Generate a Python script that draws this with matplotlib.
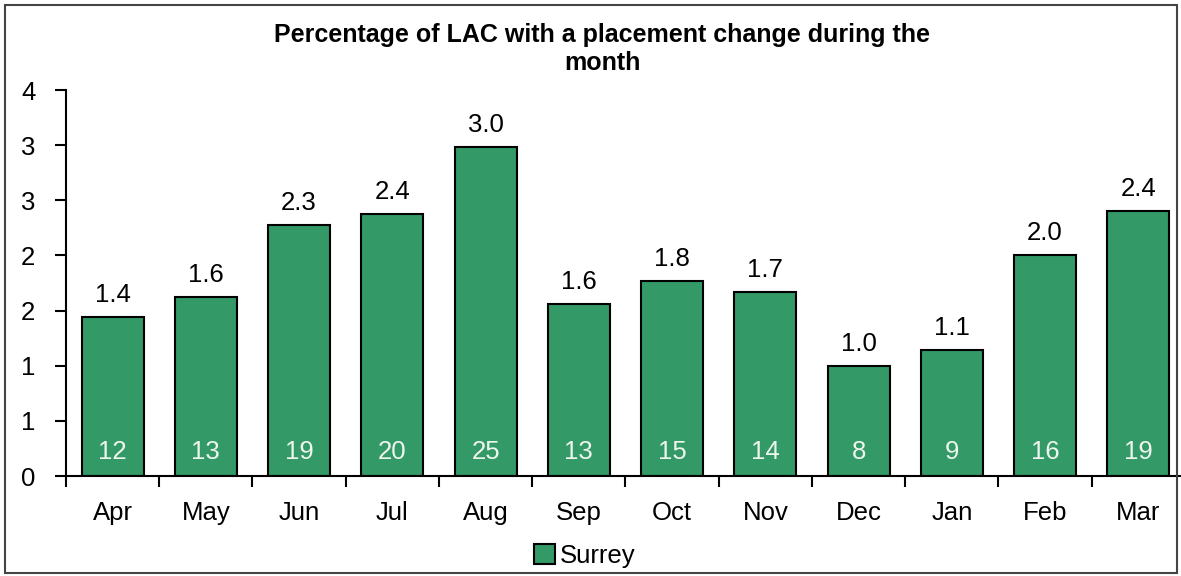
import matplotlib.pyplot as plt
from matplotlib.patches import Rectangle, Patch
from matplotlib.transforms import offset_copy

months = ["Apr", "May", "Jun", "Jul", "Aug", "Sep", "Oct", "Nov", "Dec", "Jan", "Feb", "Mar"]
pct = [1.44, 1.62, 2.28, 2.38, 2.98, 1.56, 1.77, 1.67, 1.0, 1.14, 2.0, 2.4]
counts = [12, 13, 19, 20, 25, 13, 15, 14, 8, 9, 16, 19]
yticks = [0, 0.5, 1, 1.5, 2, 2.5, 3, 3.5]
ylabels = ["0", "1", "1", "2", "2", "3", "3", "4"]

green = "#339966"
fs = 18.5
plt.rcParams['font.family'] = ['Liberation Sans', 'DejaVu Sans']

fig = plt.figure(figsize=(11.81, 5.76), dpi=100)
fig.patches.append(Rectangle((5 / 1181, 3 / 576), 1172 / 1181, 568 / 576, transform=fig.transFigure,
                             fill=False, edgecolor="#444444", linewidth=1.5))

ax = fig.add_axes([66 / 1181, 100 / 576, 1119 / 1181, 386 / 576])
x = range(len(months))
ax.bar(x, pct, width=0.665, color=green, edgecolor="black", linewidth=1.5, zorder=2)

ax.set_xlim(-0.5, len(months) - 0.5)
ax.set_ylim(0, 3.5)
ax.set_yticks(yticks)
ax.set_yticklabels(ylabels, fontsize=fs)
ax.set_xticks([i - 0.5 for i in range(len(months))])
ax.set_xticklabels([])
ax.set_xticks(list(x), minor=True)
ax.set_xticklabels(months, minor=True, fontsize=fs)
ax.tick_params(axis="x", which="major", direction="out", length=8, width=1.5)
ax.tick_params(axis="x", which="minor", length=0, pad=18)
ax.tick_params(axis="y", direction="out", length=8, width=1.5, pad=14)
for s in ["top", "right"]:
    ax.spines[s].set_visible(False)
for s in ["left", "bottom"]:
    ax.spines[s].set_linewidth(1.5)

for i, (v, c) in enumerate(zip(pct, counts)):
    ax.text(i, v, f"{v:.1f}", ha="center", va="bottom", fontsize=fs,
            transform=offset_copy(ax.transData, fig=fig, x=0, y=10, units="dots"))
    ax.text(i, 0, str(c), ha="center", va="center", fontsize=fs, color="#eef6ee",
            transform=offset_copy(ax.transData, fig=fig, x=0, y=24, units="dots"))

fig.text(602 / 1181, 1 - 49 / 576, "Percentage of LAC with a placement change during the\nmonth",
         ha="center", va="center", fontsize=18, fontweight="bold", linespacing=1.25)

fig.legend(handles=[Patch(facecolor=green, edgecolor="black", linewidth=1.5)], labels=["Surrey"],
           loc="center", bbox_to_anchor=(585 / 1181, 20 / 576), frameon=False, fontsize=fs,
           handlelength=0.8, handleheight=0.8, handletextpad=0.2)

fig.savefig("out.png", dpi=100)
